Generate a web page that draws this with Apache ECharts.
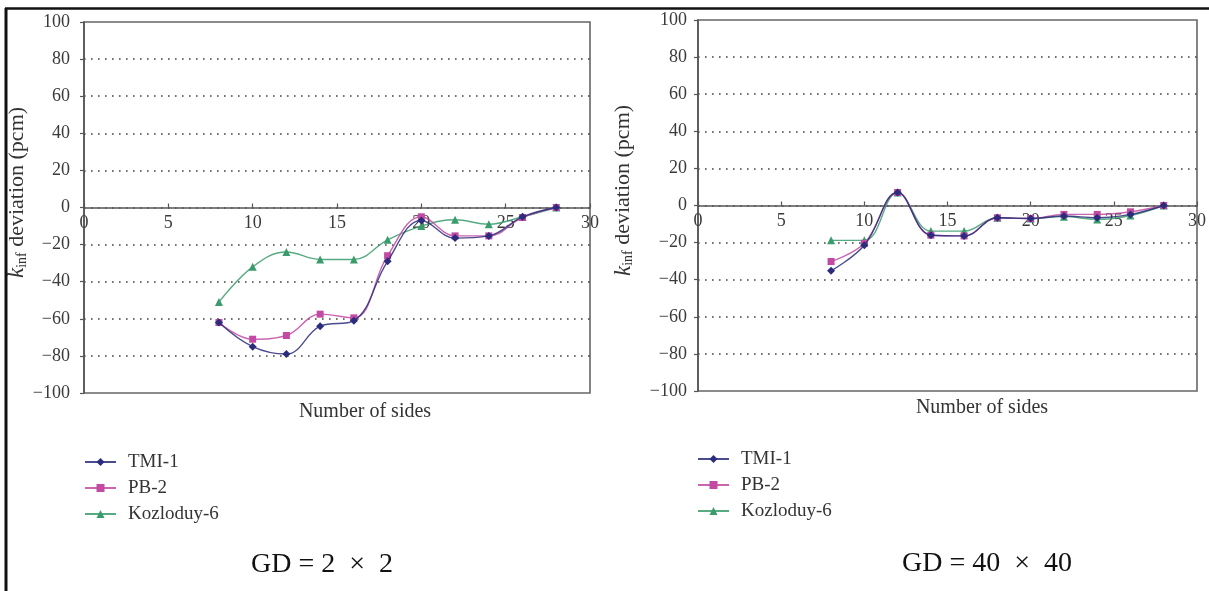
<!DOCTYPE html>
<html>
<head>
<meta charset="utf-8">
<script src="https://cdn.jsdelivr.net/npm/echarts@6/dist/echarts.min.js"></script>
<style>
  html, body { margin: 0; padding: 0; background: #fff; }
  #chart { width: 1209px; height: 591px; }
</style>
</head>
<body>
<div id="chart"></div>
<script>
// Number of polygon sides used to approximate the fuel pin
const sides = [8, 10, 12, 14, 16, 18, 20, 22, 24, 26, 28];

// k_inf deviation (pcm), geometric discretisation 2 x 2
const tmi1_2x2 = [-62, -75, -79, -64, -61, -29, -7, -16.5, -15.3, -5, 0];
const pb2_2x2  = [-62, -71, -69, -57.5, -59.5, -26, -5, -15.3, -15.3, -5.4, 0];
const koz6_2x2 = [-51, -32, -24, -28, -28, -17.4, -10, -6.6, -9, -5, 0];

// k_inf deviation (pcm), geometric discretisation 40 x 40
const tmi1_40x40 = [-35.2, -21.4, 7, -16, -16.4, -6.6, -7, -5.7, -6.6, -4.8, 0];
const pb2_40x40  = [-30.2, -20.4, 7, -16, -16.4, -6.6, -7, -4.8, -4.8, -3.4, 0];
const koz6_40x40 = [-18.8, -18.8, 7, -13.8, -13.8, -6.6, -7, -6, -7.5, -5.4, 0];

const seriesNames = ['TMI-1', 'PB-2', 'Kozloduy-6'];
const panelTitles = ['GD = 2\u2002\u00d7\u20022', 'GD = 40\u2002\u00d7\u200240'];
const xAxisTitle = 'Number of sides';

const colors = ['#2c2c7c', '#c24aa2', '#3a9c6c'];
const symbols = ['diamond', 'rect', 'triangle'];
const symbolSizes = [8, 7, 8];

const FONT = 'Liberation Serif';
const GRID_H = 371;

const pair = (ys) => sides.map((x, i) => [x, ys[i]]);

function makeSeries(dataSets, gridIndex) {
  return dataSets.map((ys, k) => ({
    name: seriesNames[k],
    type: 'line',
    xAxisIndex: gridIndex,
    yAxisIndex: gridIndex,
    data: pair(ys),
    smooth: 0.4,
    symbol: symbols[k],
    symbolSize: symbolSizes[k],
    showSymbol: true,
    color: colors[k],
    lineStyle: { width: 1.4, color: colors[k], opacity: 0.85 },
    itemStyle: { color: colors[k] },
    z: 3 + (2 - k)
  }));
}

// the x axis sits on the zero line, halfway up the symmetric y range
function xAxisOpt(gridIndex) {
  return {
    gridIndex,
    type: 'value',
    min: 0, max: 30, interval: 5,
    position: 'bottom',
    offset: -GRID_H / 2,
    axisLine: { show: true, onZero: false, lineStyle: { color: '#555', width: 1.6 } },
    axisTick: { show: true, inside: true, length: 4, lineStyle: { color: '#555', width: 1.2 } },
    axisLabel: { color: '#3a3a3a', fontFamily: FONT, fontSize: 18, margin: 7 },
    splitLine: { show: false }
  };
}

function yAxisOpt(gridIndex, labelMargin, nameGap) {
  return {
    gridIndex,
    type: 'value',
    min: -100, max: 100, interval: 20,
    axisLine: { show: true, onZero: false, lineStyle: { color: '#555', width: 1.6 } },
    axisTick: { show: true, length: 4, lineStyle: { color: '#555', width: 1.2 } },
    axisLabel: {
      color: '#3a3a3a', fontFamily: FONT, fontSize: 18, margin: labelMargin,
      formatter: (v) => v < 0 ? '\u2212' + Math.abs(v) : String(v)
    },
    splitLine: {
      show: true,
      showMinLine: false,
      showMaxLine: false,
      lineStyle: { color: '#444', width: 1.6, type: [1.6, 5.4] }
    },
    name: '{k|k}{s|inf}{n| deviation (pcm)}',
    nameLocation: 'middle',
    nameGap: nameGap,
    nameRotate: 90,
    nameTextStyle: {
      padding: [0, 0, 0, 30],
      rich: {
        k: { fontFamily: FONT, fontStyle: 'italic', fontSize: 23, color: '#333' },
        s: { fontFamily: FONT, fontSize: 14, color: '#333', padding: [9, 0, 0, 0] },
        n: { fontFamily: FONT, fontSize: 22, color: '#333' }
      }
    }
  };
}

function legendOpt(left, top) {
  return {
    orient: 'vertical',
    left, top,
    padding: 0,
    itemWidth: 31,
    itemHeight: 10,
    itemGap: 0,
    data: seriesNames,
    textStyle: {
      fontFamily: FONT, fontSize: 19, color: '#333', lineHeight: 26,
      padding: [0, 0, 0, 7]
    }
  };
}

const chart = echarts.init(document.getElementById('chart'), null, { renderer: 'canvas' });

chart.setOption({
  backgroundColor: '#ffffff',
  animation: false,
  grid: [
    { left: 84, top: 22, width: 506, height: GRID_H, show: true, borderColor: '#666', borderWidth: 1.6, backgroundColor: 'transparent' },
    { left: 698, top: 20, width: 506, height: GRID_H, show: true, borderColor: '#666', borderWidth: 1.6, backgroundColor: 'transparent' }
  ],
  xAxis: [xAxisOpt(0), xAxisOpt(1)],
  yAxis: [yAxisOpt(0, 14, 54), yAxisOpt(1, 11, 63)],
  legend: [legendOpt(84, 449), legendOpt(697, 446)],
  series: [
    ...makeSeries([tmi1_2x2, pb2_2x2, koz6_2x2], 0),
    ...makeSeries([tmi1_40x40, pb2_40x40, koz6_40x40], 1)
  ],
  graphic: [
    // outer frame (top and left edges)
    { type: 'line', shape: { x1: 5, y1: 8.5, x2: 1209, y2: 8.5 }, style: { stroke: '#111', lineWidth: 2.5 } },
    { type: 'line', shape: { x1: 6, y1: 8, x2: 6, y2: 591 }, style: { stroke: '#111', lineWidth: 3 } },
    // x-axis titles
    { type: 'text', x: 365, y: 412, style: { text: xAxisTitle, font: '20px "Liberation Serif"', fill: '#333', align: 'center', verticalAlign: 'middle' } },
    { type: 'text', x: 982, y: 408, style: { text: xAxisTitle, font: '20px "Liberation Serif"', fill: '#333', align: 'center', verticalAlign: 'middle' } },
    // panel captions
    { type: 'text', x: 322, y: 565, style: { text: panelTitles[0], font: '28px "Liberation Serif"', fill: '#111', align: 'center', verticalAlign: 'middle' } },
    { type: 'text', x: 987, y: 564, style: { text: panelTitles[1], font: '28px "Liberation Serif"', fill: '#111', align: 'center', verticalAlign: 'middle' } }
  ]
});
</script>
</body>
</html>
